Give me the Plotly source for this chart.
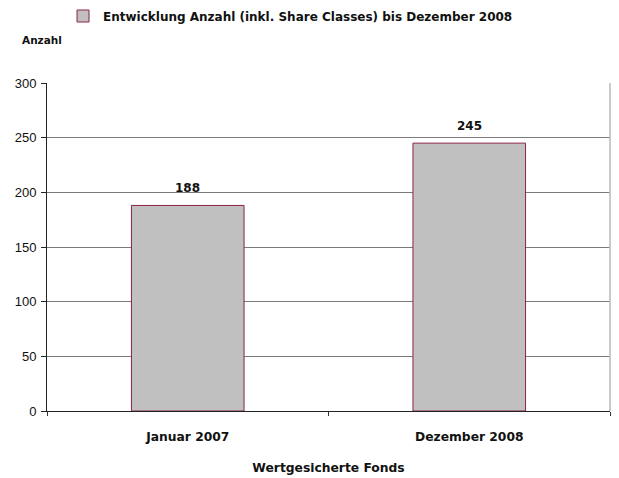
import plotly.graph_objects as go

categories = ["Januar 2007", "Dezember 2008"]
values = [188, 245]
series_name = "Entwicklung Anzahl (inkl. Share Classes) bis Dezember 2008"
y_ticks = [0, 50, 100, 150, 200, 250, 300]

W, H = 619, 478
ML, MR, MT, MB = 47, 9, 83, 67
PW, PH = W - ML - MR, H - MT - MB

ink = "#111111"
legend_font = dict(family="DejaVu Sans", size=12, color=ink, weight="bold")
cat_font = dict(family="DejaVu Sans", size=12.3, color=ink, weight="bold")

fig = go.Figure()
fig.add_trace(go.Bar(
    x=categories,
    y=values,
    name=series_name,
    width=0.4,
    marker=dict(color="#c0c0c0", line=dict(color="#8b2346", width=1)),
    showlegend=True,
))

# value labels above each bar
for c, v in zip(categories, values):
    fig.add_annotation(x=c, y=v, text=str(v), showarrow=False,
                       yanchor="bottom", yshift=8,
                       font=dict(family="DejaVu Sans", size=12, color=ink, weight="bold"))

# y-axis caption
fig.add_annotation(xref="paper", yref="paper", x=-(ML - 20) / PW, y=1 + (MT - 40) / PH,
                   xanchor="left", yanchor="middle", showarrow=False,
                   text="Anzahl", font=dict(family="DejaVu Sans", size=10.5, color=ink, weight="bold"))

# light right border of the plot area
fig.add_shape(type="line", xref="paper", yref="paper", x0=1, x1=1, y0=0, y1=1,
              line=dict(color="#b8b8b8", width=1.5))

fig.update_layout(
    width=W, height=H,
    margin=dict(l=ML, r=MR, t=MT, b=MB),
    paper_bgcolor="white", plot_bgcolor="white",
    legend=dict(orientation="h", xref="container", yref="container",
                x=(103 - 40) / W, xanchor="left", y=1 - 16 / H, yanchor="middle",
                font=legend_font, itemwidth=30),
    xaxis=dict(
        tickson="boundaries", ticks="outside", ticklen=4, tickcolor="#333333",
        showline=True, linecolor="#222222", linewidth=1,
        tickfont=cat_font, ticklabelstandoff=14, automargin=False,
        title=dict(text="Wertgesicherte Fonds", font=cat_font, standoff=20),
    ),
    yaxis=dict(
        range=[0, 300], tickvals=y_ticks, ticks="outside", ticklen=5, tickcolor="#222222",
        showline=True, linecolor="#222222", linewidth=1, automargin=False,
        gridcolor="#7a7a7a", gridwidth=1, zeroline=False,
        tickfont=dict(family="Liberation Sans", size=13, color=ink), ticklabelstandoff=2,
    ),
    bargap=0.6,
)

fig.write_html("out.html")
